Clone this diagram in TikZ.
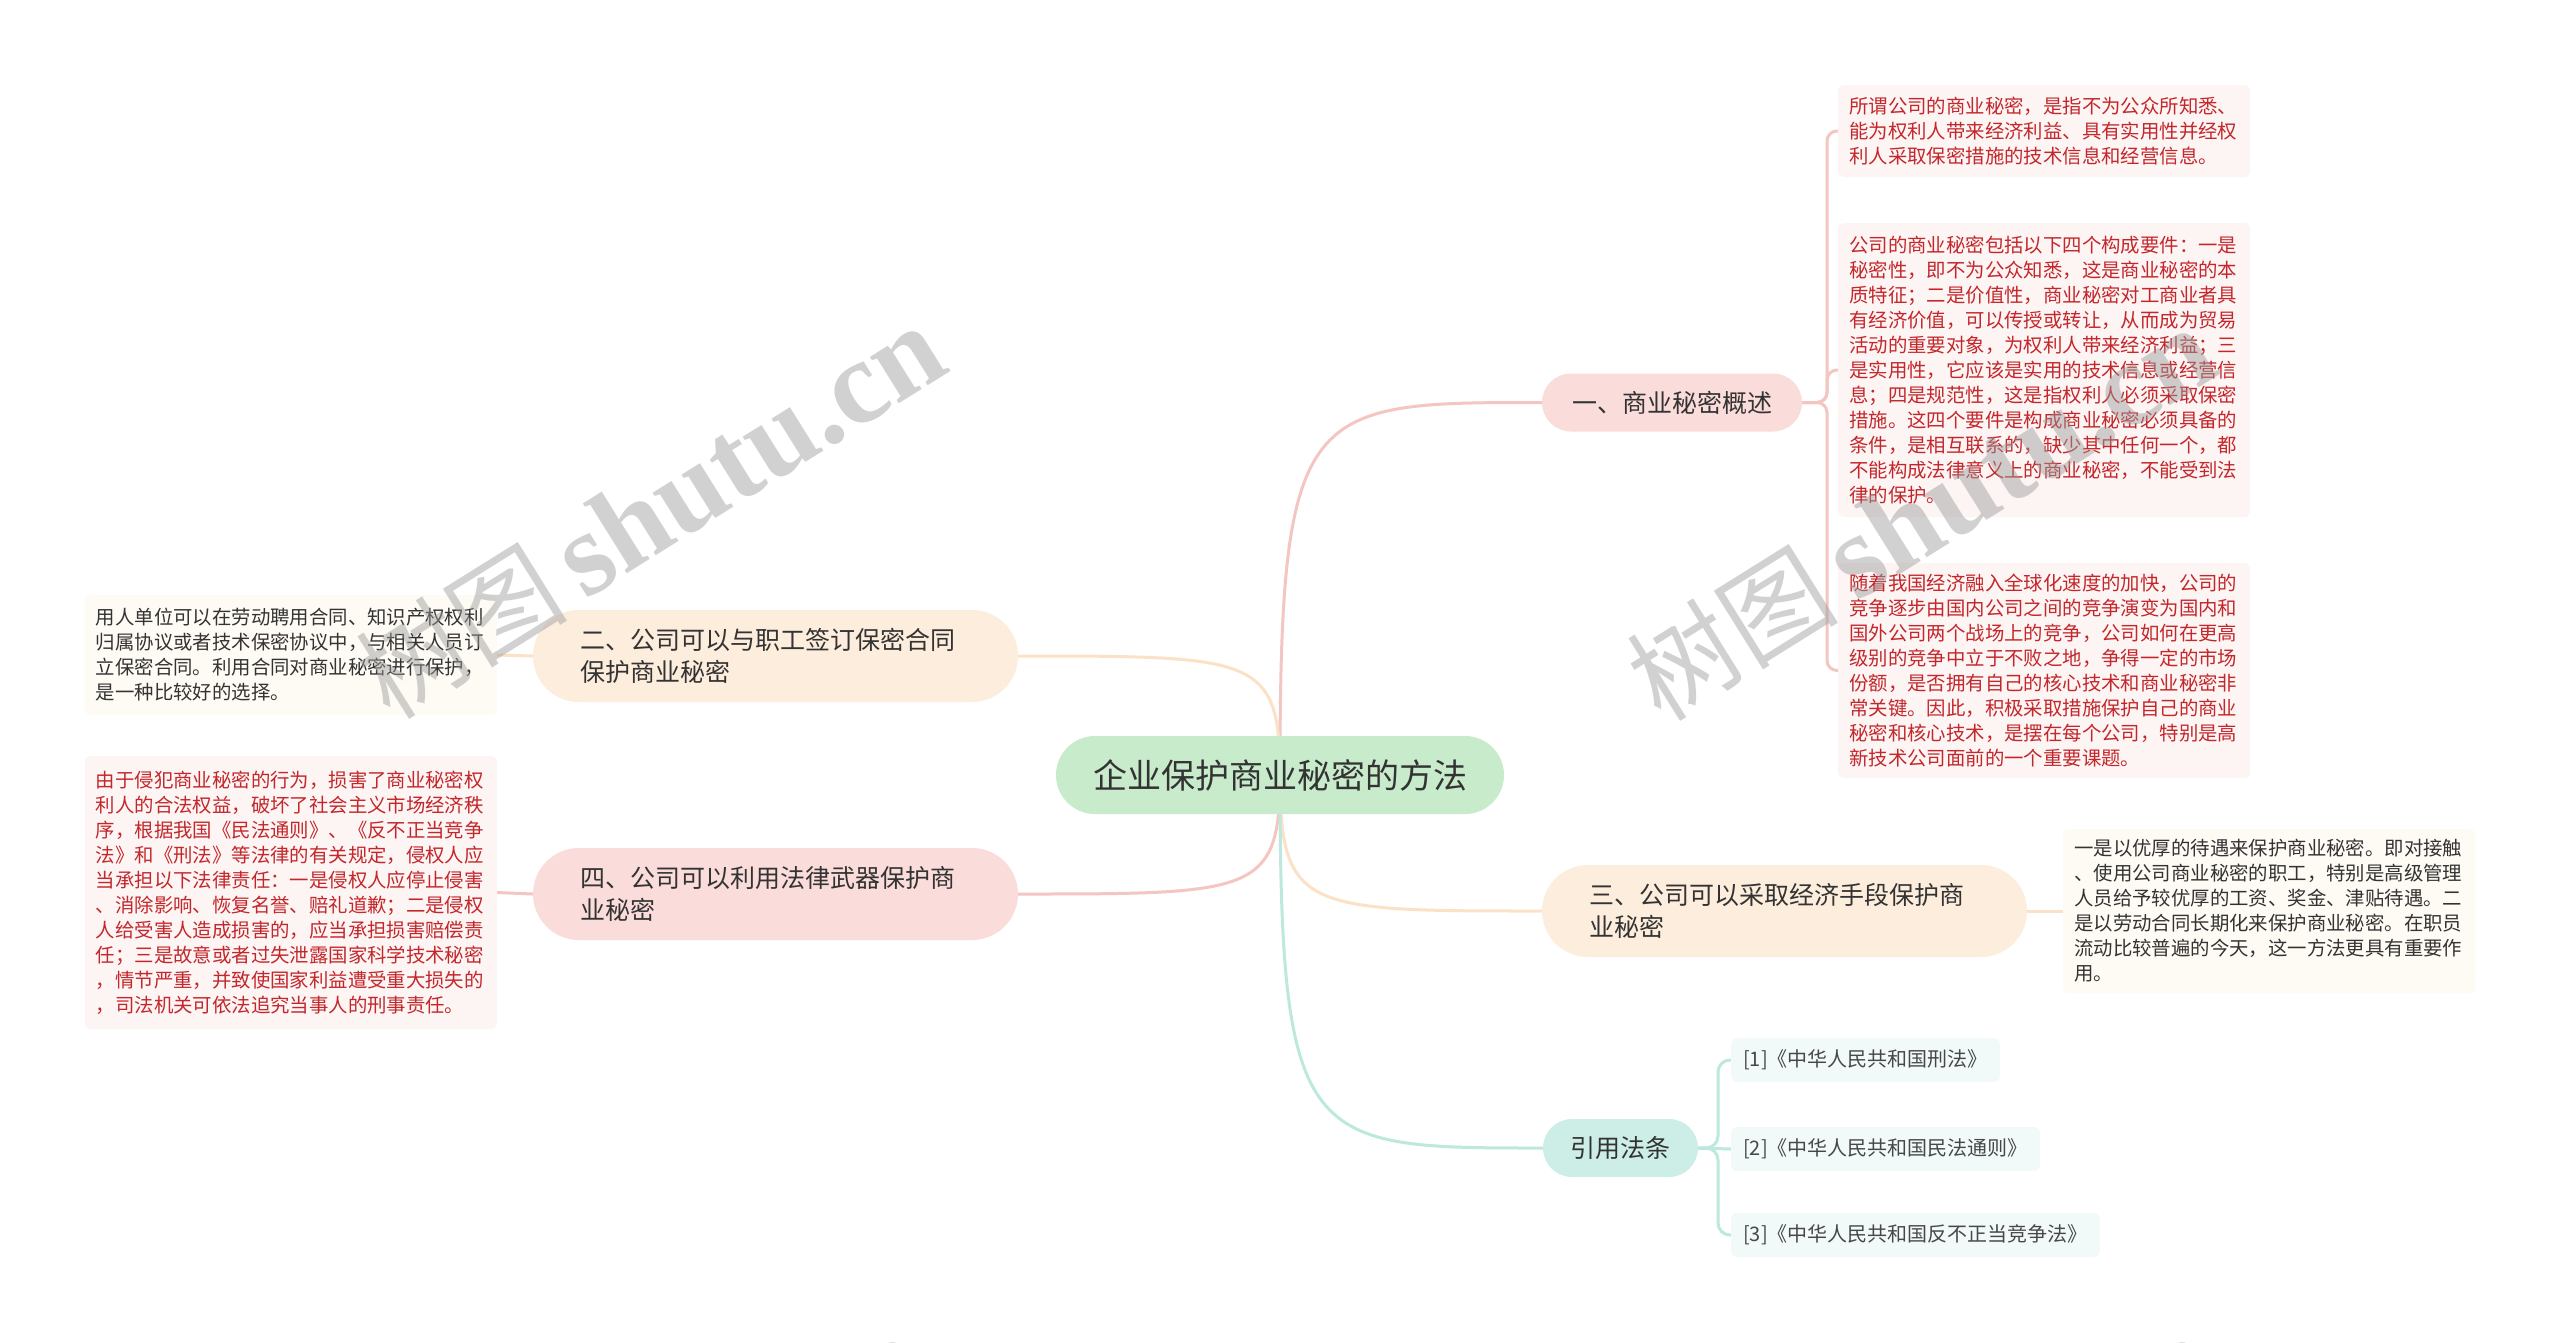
\documentclass[tikz,border=0pt]{standalone}
\usepackage{fontspec}
\newfontfamily\cjk{Noto Sans CJK SC}
\newfontfamily\wmserif{Liberation Serif}
\usetikzlibrary{calc,backgrounds}
\definecolor{rootfill}{HTML}{C8EBCB}
\definecolor{pinkfill}{HTML}{FADCDA}
\definecolor{peachfill}{HTML}{FDEDDC}
\definecolor{mintfill}{HTML}{CDEEE7}
\definecolor{pinkline}{HTML}{F4C6C2}
\definecolor{peachline}{HTML}{FBE2C6}
\definecolor{mintline}{HTML}{BCE8DE}
\definecolor{leafpink}{HTML}{FDF4F4}
\definecolor{leafcream}{HTML}{FEFAF4}
\definecolor{leafmint}{HTML}{F2FAF9}
\definecolor{redtext}{HTML}{C3272B}
\definecolor{darktext}{HTML}{333333}
\definecolor{wmgray}{HTML}{9A9A9A}
\tikzset{
  rootnode/.style={fill=rootfill, rounded corners=39pt, minimum width=448pt, minimum height=78pt,
    inner sep=0pt, text=darktext, font=\cjk\fontsize{34}{40}\selectfont},
  branchone/.style={rounded corners=29pt, minimum height=58pt, inner sep=0pt, text=darktext,
    font=\cjk\fontsize{25}{32}\selectfont},
  branchtwo/.style={rounded corners=46pt, minimum height=92pt, text width=390pt, align=left,
    inner xsep=47.5pt, inner ysep=0pt, text=darktext, font=\cjk\fontsize{25}{32}\selectfont},
  leafbox/.style={rounded corners=6pt, text width=390pt, align=left, inner xsep=11pt, inner ysep=0pt,
    font=\cjk\fontsize{19.4}{25}\selectfont},
  refbox/.style={fill=leafmint, rounded corners=6pt, minimum height=44pt, inner xsep=12pt, inner ysep=0pt,
    text=darktext!90, font=\cjk\fontsize{20}{24}\selectfont},
  conn/.style={line width=3pt},
  wm/.style={text=wmgray, text opacity=0.45, inner sep=0pt},
}
\newcommand{\wmtext}{\cjk\fontsize{106}{114}\selectfont 树图\,\wmserif\bfseries\fontsize{119}{124}\selectfont shutu.cn}
\begin{document}
\begin{tikzpicture}[x=1pt,y=-1pt]
\useasboundingbox (0,0) rectangle (2560,1342);

% root
\node[rootnode] (root) at (1280,775) {企业保护商业秘密的方法};

% branches
\node[branchone, fill=pinkfill, minimum width=260pt] (b1) at (1672,402.5) {一、商业秘密概述};
\node[branchtwo, fill=peachfill] (b2) at (775.5,656) {二、公司可以与职工签订保密合同\\保护商业秘密};
\node[branchtwo, fill=peachfill] (b3) at (1784.5,911) {三、公司可以采取经济手段保护商\\业秘密};
\node[branchtwo, fill=pinkfill] (b4) at (775.5,894) {四、公司可以利用法律武器保护商\\业秘密};
\node[branchone, fill=mintfill, minimum width=155pt] (b5) at (1620.5,1148) {引用法条};

% leaves of b1
\node[leafbox, fill=leafpink, text=redtext, minimum height=92pt, anchor=west] (la) at (1838,131) {所谓公司的商业秘密，是指不为公众所知悉、\\能为权利人带来经济利益、具有实用性并经权\\利人采取保密措施的技术信息和经营信息。};
\node[leafbox, fill=leafpink, text=redtext, minimum height=294pt, anchor=west] (lb) at (1838,370) {公司的商业秘密包括以下四个构成要件：一是\\秘密性，即不为公众知悉，这是商业秘密的本\\质特征；二是价值性，商业秘密对工商业者具\\有经济价值，可以传授或转让，从而成为贸易\\活动的重要对象，为权利人带来经济利益；三\\是实用性，它应该是实用的技术信息或经营信\\息；四是规范性，这是指权利人必须采取保密\\措施。这四个要件是构成商业秘密必须具备的\\条件，是相互联系的，缺少其中任何一个，都\\不能构成法律意义上的商业秘密，不能受到法\\律的保护。};
\node[leafbox, fill=leafpink, text=redtext, minimum height=215pt, anchor=west] (lc) at (1838,670.5) {随着我国经济融入全球化速度的加快，公司的\\竞争逐步由国内公司之间的竞争演变为国内和\\国外公司两个战场上的竞争，公司如何在更高\\级别的竞争中立于不败之地，争得一定的市场\\份额，是否拥有自己的核心技术和商业秘密非\\常关键。因此，积极采取措施保护自己的商业\\秘密和核心技术，是摆在每个公司，特别是高\\新技术公司面前的一个重要课题。};

% leaf of b2
\node[leafbox, fill=leafcream, text=darktext, minimum height=120pt, anchor=east] (ld) at (497,655) {用人单位可以在劳动聘用合同、知识产权权利\\归属协议或者技术保密协议中，与相关人员订\\立保密合同。利用合同对商业秘密进行保护，\\是一种比较好的选择。};

% leaf of b4
\node[leafbox, fill=leafpink, text=redtext, minimum height=273pt, anchor=east] (le) at (497,892.5) {由于侵犯商业秘密的行为，损害了商业秘密权\\利人的合法权益，破坏了社会主义市场经济秩\\序，根据我国《民法通则》、《反不正当竞争\\法》和《刑法》等法律的有关规定，侵权人应\\当承担以下法律责任：一是侵权人应停止侵害\\、消除影响、恢复名誉、赔礼道歉；二是侵权\\人给受害人造成损害的，应当承担损害赔偿责\\任；三是故意或者过失泄露国家科学技术秘密\\，情节严重，并致使国家利益遭受重大损失的\\，司法机关可依法追究当事人的刑事责任。};

% leaf of b3
\node[leafbox, fill=leafcream, text=darktext, minimum height=164pt, anchor=west] (lf) at (2063,911) {一是以优厚的待遇来保护商业秘密。即对接触\\、使用公司商业秘密的职工，特别是高级管理\\人员给予较优厚的工资、奖金、津贴待遇。二\\是以劳动合同长期化来保护商业秘密。在职员\\流动比较普遍的今天，这一方法更具有重要作\\用。};

% refs
\node[refbox, anchor=west] (r1) at (1731,1060) {[1]《中华人民共和国刑法》};
\node[refbox, anchor=west] (r2) at (1731,1149) {[2]《中华人民共和国民法通则》};
\node[refbox, anchor=west] (r3) at (1731,1235) {[3]《中华人民共和国反不正当竞争法》};

\begin{pgfonlayer}{background}
\fill[white] (0,0) rectangle (2560,1342);
% root connectors
\draw[conn, pinkline] (root.center) .. controls (root.center |- b1.west) and ($(root.center |- b1.west)+(25,0)$) .. (b1.west);
\draw[conn, peachline] (root.center) .. controls (root.center |- b2.east) and ($(root.center |- b2.east)+(-25,0)$) .. (b2.east);
\draw[conn, peachline] (root.center) .. controls (root.center |- b3.west) and ($(root.center |- b3.west)+(25,0)$) .. (b3.west);
\draw[conn, pinkline] (root.center) .. controls (root.center |- b4.east) and ($(root.center |- b4.east)+(-25,0)$) .. (b4.east);
\draw[conn, mintline] (root.center) .. controls (root.center |- b5.west) and ($(root.center |- b5.west)+(25,0)$) .. (b5.west);
% b1 bracket
\draw[conn, pinkline, rounded corners=10pt] (b1.east) -| ($(la.west)+(-11,0)$) -- (la.west);
\draw[conn, pinkline, rounded corners=10pt] (b1.east) -| ($(lb.west)+(-11,0)$) -- (lb.west);
\draw[conn, pinkline, rounded corners=10pt] (b1.east) -| ($(lc.west)+(-11,0)$) -- (lc.west);
% single leaves
\draw[conn, peachline] (b2.west) -- (ld.east);
\draw[conn, pinkline] (b4.west) -- (le.east);
\draw[conn, peachline] (b3.east) -- (lf.west);
% b5 bracket
\draw[conn, mintline, rounded corners=12pt] (b5.east) -| ($(r1.west)+(-13,0)$) -- (r1.west);
\draw[conn, mintline] (b5.east) -- (r2.west);
\draw[conn, mintline, rounded corners=12pt] (b5.east) -| ($(r3.west)+(-13,0)$) -- (r3.west);
\end{pgfonlayer}

% watermarks
\node[wm, rotate=32] (wm1) at (650,512) {\wmtext};
\node[wm, rotate=32] (wm2) at (1921,514) {\wmtext};
\node[wm, rotate=32] (wm3) at (630,1523) {\wmtext};
\node[wm, rotate=32] (wm4) at (1920,1523) {\wmtext};
\end{tikzpicture}
\end{document}
